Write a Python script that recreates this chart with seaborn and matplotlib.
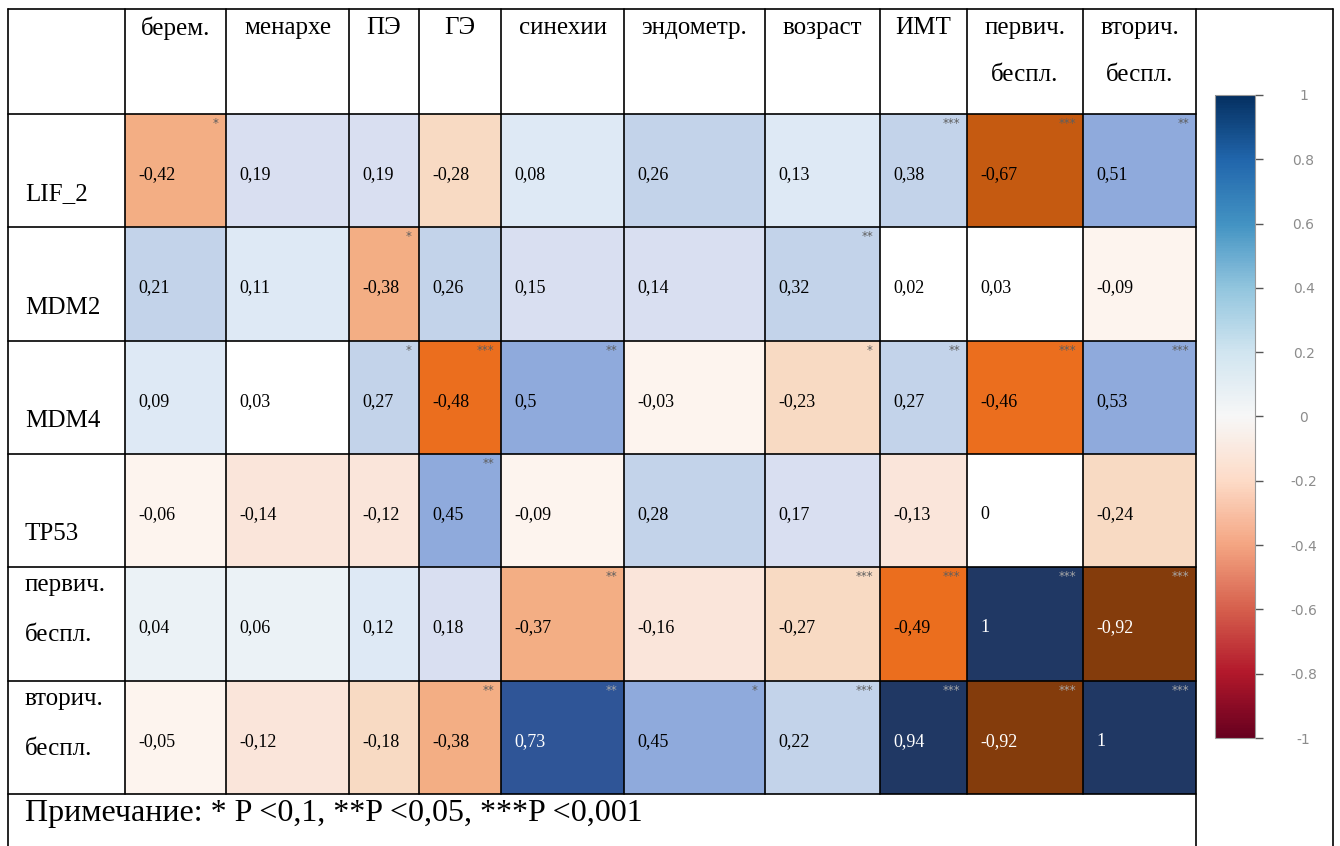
import numpy as np
import pandas as pd
import seaborn as sns
import matplotlib
matplotlib.use("Agg")
import matplotlib.pyplot as plt
from matplotlib.colors import ListedColormap, BoundaryNorm, Normalize
from matplotlib.lines import Line2D
from matplotlib.cm import ScalarMappable

# ---------------- data ----------------
col_labels = ["берем.", "менархе", "ПЭ", "ГЭ", "синехии", "эндометр.",
              "возраст", "ИМТ", "первич.\nбеспл.", "вторич.\nбеспл."]
row_labels = ["LIF_2", "MDM2", "MDM4", "TP53", "первич.\nбеспл.", "вторич.\nбеспл."]

r_lif2   = [-0.42, 0.19, 0.19, -0.28, 0.08, 0.26, 0.13, 0.38, -0.67, 0.51]
r_mdm2   = [0.21, 0.11, -0.38, 0.26, 0.15, 0.14, 0.32, 0.02, 0.03, -0.09]
r_mdm4   = [0.09, 0.03, 0.27, -0.48, 0.50, -0.03, -0.23, 0.27, -0.46, 0.53]
r_tp53   = [-0.06, -0.14, -0.12, 0.45, -0.09, 0.28, 0.17, -0.13, 0.0, -0.24]
r_perv   = [0.04, 0.06, 0.12, 0.18, -0.37, -0.16, -0.27, -0.49, 1.0, -0.92]
r_vtor   = [-0.05, -0.12, -0.18, -0.38, 0.73, 0.45, 0.22, 0.94, -0.92, 1.0]

s_lif2 = ["*", "", "", "", "", "", "", "***", "***", "**"]
s_mdm2 = ["", "", "*", "", "", "", "**", "", "", ""]
s_mdm4 = ["", "", "*", "***", "**", "", "*", "**", "***", "***"]
s_tp53 = ["", "", "", "**", "", "", "", "", "", ""]
s_perv = ["", "", "", "", "**", "", "***", "***", "***", "***"]
s_vtor = ["", "", "", "**", "**", "*", "***", "***", "***", "***"]

note_text = "Примечание: * P <0,1, **P <0,05, ***P <0,001"
cbar_ticks = [1, 0.8, 0.6, 0.4, 0.2, 0, -0.2, -0.4, -0.6, -0.8, -1]

# ---------------- style ----------------
sns.set_theme(style="white")
plt.rcParams["font.family"] = ["Liberation Serif", "DejaVu Serif"]
plt.rcParams["axes.unicode_minus"] = False
plt.rcParams["text.color"] = "black"

cell_colors = ["#843C0C", "#C55A11", "#EB6E1E", "#F3AE84", "#F8DAC3", "#FAE5DA",
               "#FDF4EE", "#FFFFFF", "#EBF2F6", "#DEE9F5", "#D9DFF1", "#C3D3EA",
               "#8FAADC", "#2F5597", "#203864"]
bounds = [-1.001, -0.8, -0.6, -0.44, -0.3, -0.17, -0.1, -0.025, 0.035,
          0.07, 0.135, 0.2, 0.4, 0.6, 0.8, 1.001]
cmap = ListedColormap(cell_colors)
norm = BoundaryNorm(bounds, cmap.N)

W, H = 1340, 846
fig = plt.figure(figsize=(W / 100, H / 100), dpi=100)
fig.patch.set_facecolor("white")

col_edges = [8, 125, 226, 349, 419, 501, 624, 765, 880, 967, 1083, 1196]
top_y, head_y, bot_y, right_x = 9, 114, 794, 1333

def fx(px):
    return px / W

def fy(py):
    return 1 - py / H

df = pd.DataFrame([r_lif2, r_mdm2, r_mdm4, r_tp53, r_perv, r_vtor],
                  index=row_labels, columns=col_labels)
stars = pd.DataFrame([s_lif2, s_mdm2, s_mdm4, s_tp53, s_perv, s_vtor],
                     index=row_labels, columns=col_labels)

nrows = len(row_labels)
row_h = (bot_y - head_y) / nrows
row_edges = [head_y + k * row_h for k in range(nrows + 1)]

def fmt(v):
    return f"{v:g}".replace(".", ",")

label_fs = 18
value_fs = 13

for j, col in enumerate(col_labels):
    x0, x1 = col_edges[j + 1], col_edges[j + 2]
    wpx = x1 - x0
    ax = fig.add_axes([fx(x0), fy(bot_y), wpx / W, (bot_y - head_y) / H])
    sns.heatmap(df[[col]], ax=ax, cmap=cmap, norm=norm, cbar=False,
                xticklabels=False, yticklabels=False)
    ax.set_xlabel("")
    ax.set_ylabel("")
    for i, row in enumerate(row_labels):
        v = df.loc[row, col]
        dark = abs(v) >= 0.7
        ax.text(13 / wpx, i + 0.5 + 4 / row_h, fmt(v), ha="left", va="center",
                fontsize=value_fs, color="white" if dark else "black")
        st = stars.loc[row, col]
        if st:
            ax.text(1 - 7 / wpx, i + 3 / row_h, st, ha="right", va="top",
                    fontsize=8.5, family="DejaVu Sans",
                    color="#A8A8A8" if dark else "#5E5E5E")
    # header label
    for k, part in enumerate(col.split("\n")):
        fig.text(fx((x0 + x1) / 2), fy(28 + 47 * k), part, ha="center",
                 va="center", fontsize=label_fs)

# row labels
for i, row in enumerate(row_labels):
    parts = row.split("\n")
    if len(parts) == 1:
        fig.text(fx(25), fy(row_edges[i + 1] - 33), row, ha="left",
                 va="center", fontsize=label_fs)
    else:
        fig.text(fx(25), fy(row_edges[i] + 18), parts[0], ha="left",
                 va="center", fontsize=label_fs)
        fig.text(fx(25), fy(row_edges[i] + 68), parts[1], ha="left",
                 va="center", fontsize=label_fs)

fig.text(fx(25), fy(813), note_text, ha="left", va="center", fontsize=23)

# table grid lines
lw = 1.2
def hline(y, xa, xb):
    fig.add_artist(Line2D([fx(xa), fx(xb)], [fy(y), fy(y)], color="black",
                          lw=lw, transform=fig.transFigure))

def vline(x, ya, yb):
    fig.add_artist(Line2D([fx(x), fx(x)], [fy(ya), fy(yb)], color="black",
                          lw=lw, transform=fig.transFigure))

hline(top_y, col_edges[0], right_x)
for y in row_edges:
    hline(y, col_edges[0], col_edges[-1])
for x in col_edges[1:-1]:
    vline(x, top_y, bot_y)
vline(col_edges[0], top_y, H)
vline(col_edges[-1], top_y, H)
vline(right_x, top_y, H)

# colour bar
cax = fig.add_axes([fx(1215), fy(738), 40 / W, (738 - 95) / H])
cb = fig.colorbar(ScalarMappable(norm=Normalize(-1, 1), cmap="RdBu"),
                  cax=cax, ticks=cbar_ticks)
cb.outline.set_edgecolor("#9a9a9a")
cb.outline.set_linewidth(0.8)
cax.tick_params(axis="y", length=6, width=1.0, color="#555555",
                labelcolor="#8c8c8c", labelsize=10, pad=29, right=True)
cax.set_yticklabels([f"{t:g}" for t in cbar_ticks], family="DejaVu Sans")
for lab in cax.get_yticklabels():
    lab.set_horizontalalignment("center")

fig.savefig("out.png", dpi=100, facecolor="white")
